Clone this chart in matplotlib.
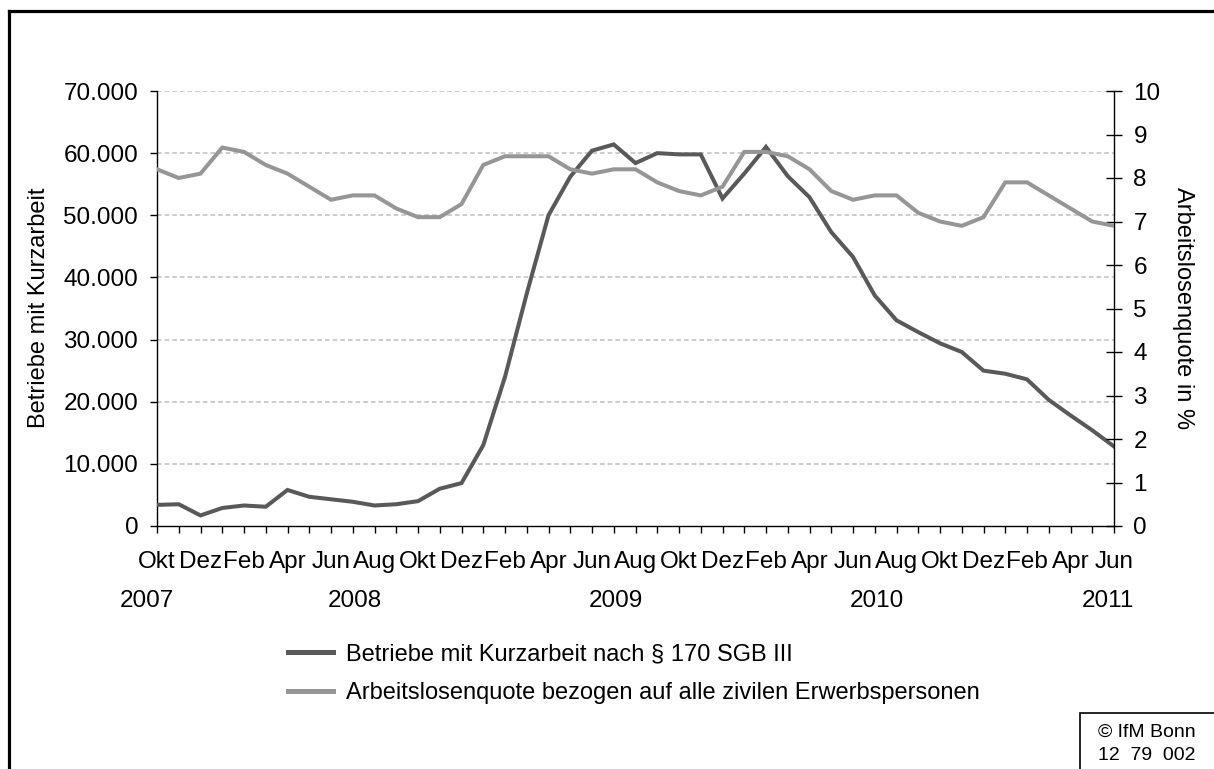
import numpy as np
import matplotlib
matplotlib.use("Agg")
import matplotlib.pyplot as plt
from matplotlib.lines import Line2D
from matplotlib.patches import Rectangle

plt.rcParams['font.family'] = ['Liberation Sans', 'DejaVu Sans']

# Monthly values Okt 2007 - Jun 2011
month_names = ['Okt', 'Nov', 'Dez', 'Jan', 'Feb', 'Mär', 'Apr', 'Mai', 'Jun', 'Jul', 'Aug', 'Sep']
n_months = 45

betriebe = [3400, 3500, 1700, 2900, 3300, 3100, 5800, 4700, 4300, 3900, 3300, 3500,
            4000, 6000, 6900, 13000, 24000, 37400, 50000, 56200, 60400, 61400, 58400,
            60000, 59800, 59800, 52700, 56700, 61000, 56300, 52900, 47300, 43300, 37100,
            33100, 31200, 29400, 28000, 25000, 24500, 23600, 20300, 17800, 15400, 12800]

quote = [8.2, 8.0, 8.1, 8.7, 8.6, 8.3, 8.1, 7.8, 7.5, 7.6, 7.6, 7.3, 7.1, 7.1, 7.4,
         8.3, 8.5, 8.5, 8.5, 8.2, 8.1, 8.2, 8.2, 7.9, 7.7, 7.6, 7.8, 8.6, 8.6, 8.5,
         8.2, 7.7, 7.5, 7.6, 7.6, 7.2, 7.0, 6.9, 7.1, 7.9, 7.9, 7.6, 7.3, 7.0, 6.9]

left_ticks = [0, 10000, 20000, 30000, 40000, 50000, 60000, 70000]
left_labels = ['0', '10.000', '20.000', '30.000', '40.000', '50.000', '60.000', '70.000']
right_ticks = list(range(0, 11))

years = ['2007', '2008', '2009', '2010', '2011']
year_pos = [-0.45, 9.1, 21.1, 33.1, 43.7]

label_betriebe = 'Betriebe mit Kurzarbeit nach § 170 SGB III'
label_quote = 'Arbeitslosenquote bezogen auf alle zivilen Erwerbspersonen'

dark = '#595959'
light = '#969696'
fs = 17
fs_tick = 17.5

W, H = 1214, 769
fig = plt.figure(figsize=(W / 100, H / 100), dpi=100)
ax = fig.add_axes([157 / W, 1 - 526 / H, (1114 - 157) / W, (526 - 91) / H])
ax2 = ax.twinx()

x = np.arange(n_months)
ax.plot(x, betriebe, color=dark, lw=2.9, solid_joinstyle='miter', zorder=3)
ax2.plot(x, quote, color=light, lw=2.9, solid_joinstyle='miter', zorder=3)

ax.set_xlim(0, n_months - 1)
ax.set_ylim(0, 70000)
ax2.set_ylim(0, 10)

ax.set_yticks(left_ticks)
ax.set_yticklabels(left_labels, fontsize=fs_tick)
ax2.set_yticks(right_ticks)
ax2.set_yticklabels([str(t) for t in right_ticks], fontsize=fs_tick)

labels = [month_names[i % 12] if i % 2 == 0 else '' for i in range(n_months)]
ax.set_xticks(x)
ax.set_xticklabels(labels, fontsize=fs_tick)

ax.tick_params(axis='x', direction='out', length=5, width=1, pad=13, colors='black')
ax.tick_params(axis='y', direction='out', length=5, width=1, pad=8.5)
ax2.tick_params(axis='y', direction='inout', length=11, width=1, pad=8.5)

for y in left_ticks[1:]:
    ax.axhline(y, color='#bfbfbf', lw=1.1, ls=(0, (3, 2)), zorder=1)

for s in ['top', 'right']:
    ax.spines[s].set_visible(False)
for s in ['top', 'left', 'bottom']:
    ax2.spines[s].set_visible(False)
for s in ['left', 'bottom']:
    ax.spines[s].set_linewidth(1.0)
ax2.spines['right'].set_linewidth(1.0)

for yr, pos in zip(years, year_pos):
    ax.text(pos, -0.173, yr, transform=ax.get_xaxis_transform(),
            ha='center', va='center', fontsize=fs_tick)

fig.text(39 / W, 1 - 308 / H, 'Betriebe mit Kurzarbeit', rotation=90,
         ha='center', va='center', fontsize=fs)
fig.text(1183 / W, 1 - 308 / H, 'Arbeitslosenquote in %', rotation=-90,
         ha='center', va='center', fontsize=fs)

handles = [Line2D([], [], color=dark, lw=3.6), Line2D([], [], color=light, lw=3.6)]
fig.legend(handles, [label_betriebe, label_quote], loc='upper left',
           bbox_to_anchor=(288 / W, 1 - 643 / H), frameon=False, fontsize=fs,
           borderpad=0, borderaxespad=0, handlelength=1.9, handletextpad=0.55,
           labelspacing=0.72)

# outer frame (top and left only visible in the crop)
fig.add_artist(Line2D([9 / W, 9 / W], [0, 1 - 11 / H], color='black', lw=2.3,
                      transform=fig.transFigure, solid_capstyle='projecting'))
fig.add_artist(Line2D([9 / W, 1], [1 - 11 / H, 1 - 11 / H], color='black', lw=2.3,
                      transform=fig.transFigure, solid_capstyle='projecting'))

# copyright box
fig.add_artist(Rectangle((1080 / W, -0.05), 0.2, 0.05 + 1 - 713 / H, fill=False,
                         edgecolor='black', lw=1.2, transform=fig.transFigure))
fig.text(1147 / W, 1 - 732 / H, '© IfM Bonn', ha='center', va='center', fontsize=14)
fig.text(1147 / W, 1 - 755 / H, '12  79  002', ha='center', va='center', fontsize=14)

fig.savefig('out.png', dpi=100)
